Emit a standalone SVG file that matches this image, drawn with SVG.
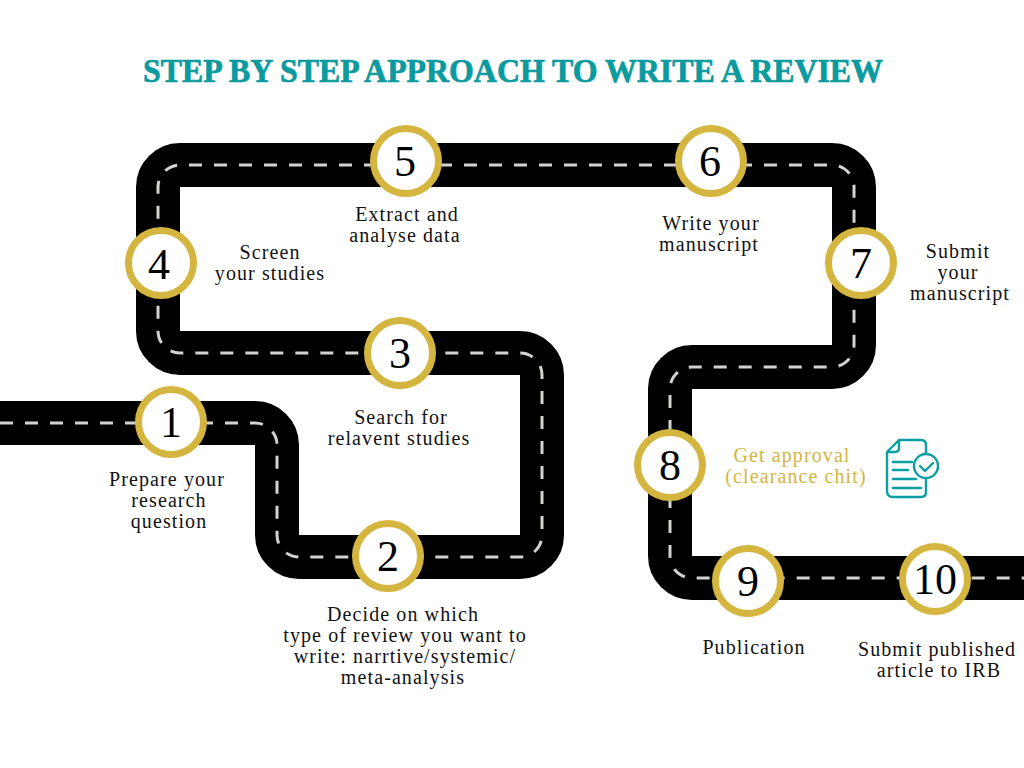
<svg xmlns="http://www.w3.org/2000/svg" width="1024" height="768" viewBox="0 0 1024 768">
<style>
.road{fill:none;stroke:#000;stroke-width:44}
.lane{fill:none;stroke:#d2d4d0;stroke-width:3;stroke-dasharray:13 12}
.ring{fill:#fff;stroke:#d4b53f;stroke-width:7}
.num{font-family:"Liberation Serif",serif;font-size:44px;fill:#000;text-anchor:middle}
.lb{font-family:"Liberation Serif",serif;font-size:20px;fill:#111;text-anchor:middle;letter-spacing:1.1px}
.gold{fill:#d4b53f}
.ic{fill:none;stroke:#0b9ea2;stroke-width:2.4;stroke-linecap:round;stroke-linejoin:round}
.ttl{font-family:"Liberation Serif",serif;font-weight:700;font-size:33px;fill:#0b9a9e;stroke:#0b9a9e;stroke-width:.7}
</style>
<rect width="1024" height="768" fill="#fff"/>
<text id="title" class="ttl" x="143" y="82" textLength="740" lengthAdjust="spacingAndGlyphs">STEP BY STEP APPROACH TO WRITE A REVIEW</text>
<g id="connectors">
<path id="road" class="road" d="M0 423H255A22 22 0 0 1 277 445V535A22 22 0 0 0 299 557H520A22 22 0 0 0 542 535V375A22 22 0 0 0 520 353H180A22 22 0 0 1 158 331V187A22 22 0 0 1 180 165H832A22 22 0 0 1 854 187V345A22 22 0 0 1 832 367H692A22 22 0 0 0 670 389V556A22 22 0 0 0 692 578H1024"/>
<path id="lane" class="lane" d="M0 423H255A22 22 0 0 1 277 445V535A22 22 0 0 0 299 557H520A22 22 0 0 0 542 535V375A22 22 0 0 0 520 353H180A22 22 0 0 1 158 331V187A22 22 0 0 1 180 165H832A22 22 0 0 1 854 187V345A22 22 0 0 1 832 367H692A22 22 0 0 0 670 389V556A22 22 0 0 0 692 578H1024"/>
</g>
<g id="node1"><circle class="ring" cx="171" cy="422" r="32.5"/><text class="num" x="171" y="437">1</text><text class="lb" x="167" y="486">Prepare your</text><text class="lb" x="169" y="507">research</text><text class="lb" x="169" y="528">question</text></g>
<g id="node2"><circle class="ring" cx="388" cy="556" r="32.5"/><text class="num" x="388" y="571">2</text><text class="lb" x="403" y="621">Decide on which</text><text class="lb" x="405" y="642">type of review you want to</text><text class="lb" x="405" y="663">write: narrtive/systemic/</text><text class="lb" x="403" y="684">meta-analysis</text></g>
<g id="node3"><circle class="ring" cx="400" cy="353" r="32.5"/><text class="num" x="400" y="368">3</text><text class="lb" x="401" y="424">Search for</text><text class="lb" x="399" y="445">relavent studies</text></g>
<g id="node4"><circle class="ring" cx="161" cy="263" r="32.5"/><text class="num" x="159" y="279">4</text><text class="lb" x="270" y="259">Screen</text><text class="lb" x="270" y="280">your studies</text></g>
<g id="node5"><circle class="ring" cx="406" cy="161" r="32.5"/><text class="num" x="405" y="176">5</text><text class="lb" x="407" y="221">Extract and</text><text class="lb" x="405" y="242">analyse data</text></g>
<g id="node6"><circle class="ring" cx="711" cy="161" r="32.5"/><text class="num" x="710" y="176">6</text><text class="lb" x="711" y="230">Write your</text><text class="lb" x="709" y="251">manuscript</text></g>
<g id="node7"><circle class="ring" cx="861" cy="263" r="32.5"/><text class="num" x="861" y="278">7</text><text class="lb" x="958" y="258">Submit</text><text class="lb" x="958" y="279">your</text><text class="lb" x="960" y="300">manuscript</text></g>
<g id="node8"><circle class="ring" cx="670" cy="465" r="32.5"/><text class="num" x="670" y="480">8</text><text class="lb gold" x="792" y="462">Get approval</text><text class="lb gold" x="796" y="483">(clearance chit)</text>
<g id="doc-icon"><path class="ic" d="M899 440H921Q926 440 926 445V453M899 440L887 452V491Q887 497 893 497H921Q926 497 926 492V479M899 440V448Q899 452 895 452H887"/><circle class="ic" cx="926" cy="466" r="12"/><path class="ic" d="M920 466L925 471L933 463M893 462H912M893 470H908M893 479H916M893 488H921"/></g></g>
<g id="node9"><circle class="ring" cx="748" cy="581" r="32.5"/><text class="num" x="748" y="596">9</text><text class="lb" x="754" y="654">Publication</text></g>
<g id="node10"><circle class="ring" cx="935" cy="579" r="32.5"/><text class="num" x="935" y="594">10</text><text class="lb" x="937" y="656">Submit published</text><text class="lb" x="939" y="677">article to IRB</text></g>
</svg>
